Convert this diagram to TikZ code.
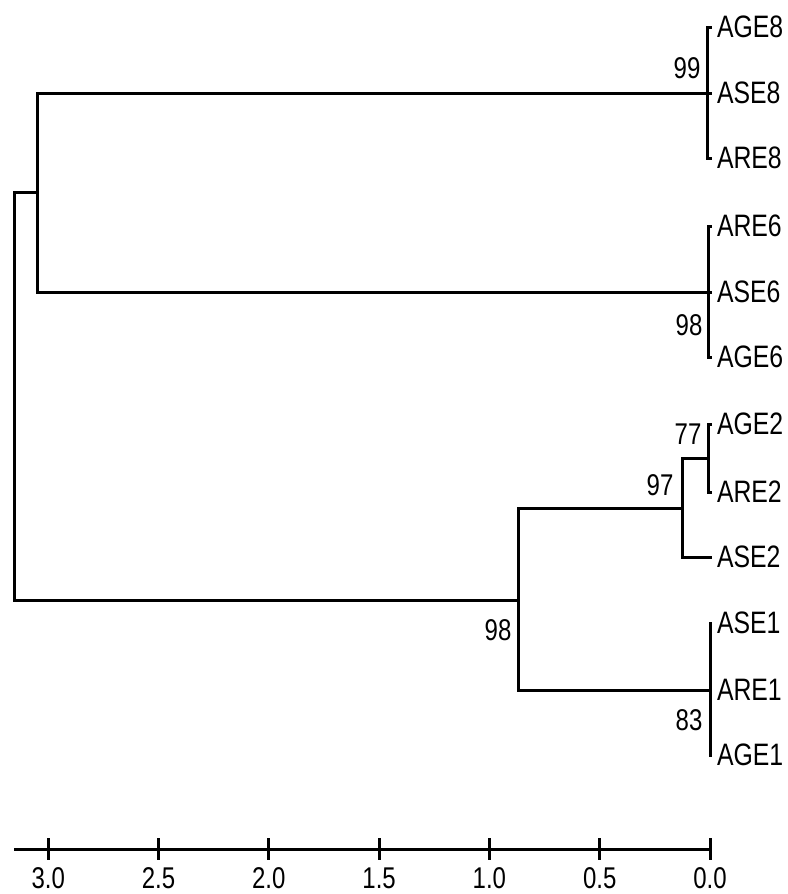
\documentclass[tikz,border=0pt]{standalone}
\usepackage{fontspec}
\newfontfamily\treefont[FakeStretch=0.8]{Liberation Sans}

\begin{document}
\begin{tikzpicture}[x=1pt,y=-1pt,
    branch/.style={line width=3pt},
    leaf/.style={anchor=west,inner xsep=5pt,inner ysep=0pt,outer sep=0pt,font=\treefont\fontsize{31}{33}\selectfont},
    boot/.style={inner sep=0pt,font=\treefont\fontsize{30}{32}\selectfont},
    scalelabel/.style={inner sep=0pt,font=\treefont\fontsize{30}{32}\selectfont}
  ]
  \useasboundingbox (0,0) rectangle (787,894);
  % leaves
  \node[leaf] (AGE8) at (712,27) {AGE8};
  \node[leaf] (ASE8) at (712,93) {ASE8};
  \node[leaf] (ARE8) at (712,158) {ARE8};
  \node[leaf] (ARE6) at (712,226) {ARE6};
  \node[leaf] (ASE6) at (712,292) {ASE6};
  \node[leaf] (AGE6) at (712,357) {AGE6};
  \node[leaf] (AGE2) at (712,424) {AGE2};
  \node[leaf] (ARE2) at (712,492) {ARE2};
  \node[leaf] (ASE2) at (712,557) {ASE2};
  \node[leaf] (ASE1) at (712,623) {ASE1};
  \node[leaf] (ARE1) at (712,690) {ARE1};
  \node[leaf] (AGE1) at (712,755) {AGE1};
  % internal nodes
  \coordinate (c8) at (707,93);
  \coordinate (c6) at (708,292);
  \coordinate (c86) at (37,192);
  \coordinate (c2a) at (708,458);
  \coordinate (c2) at (682,508);
  \coordinate (c1) at (710,690);
  \coordinate (c12) at (518,600);
  \coordinate (root) at (14,396);
  % branches
  \draw[branch] (c8) |- (AGE8);
  \draw[branch] (c8) |- (ASE8);
  \draw[branch] (c8) |- (ARE8);
  \draw[branch] (c6) |- (ARE6);
  \draw[branch] (c6) |- (ASE6);
  \draw[branch] (c6) |- (AGE6);
  \draw[branch] (c86) |- (c8);
  \draw[branch] (c86) |- (c6);
  \draw[branch] (c2a) |- (AGE2);
  \draw[branch] (c2a) |- (ARE2);
  \draw[branch] (c2) |- (c2a);
  \draw[branch] (c2) |- (ASE2);
  \draw[branch] (c1) |- (ASE1);
  \draw[branch] (c1) |- (ARE1);
  \draw[branch] (c1) |- (AGE1);
  \draw[branch] (c12) |- (c2);
  \draw[branch] (c12) |- (c1);
  \draw[branch] (root) |- (c86);
  \draw[branch] (root) |- (c12);
  % bootstrap values
  \node[boot] (b8) at (687,68) {99};
  \node[boot] (b6) at (689,325) {98};
  \node[boot] (b2a) at (688,434) {77};
  \node[boot] (b2) at (660,485) {97};
  \node[boot] (b12) at (498,630) {98};
  \node[boot] (b1) at (689,720) {83};
  % distance scale
  \draw[branch] (14,849) -- (710,849);
  \foreach \t [count=\i] in {0.0,0.5,1.0,1.5,2.0,2.5,3.0} {
    \draw[branch] ({710-110.3*(\i-1)},838) -- ({710-110.3*(\i-1)},860);
    \node[scalelabel] (tick\i) at ({710-110.3*(\i-1)},878) {\t};
  }
\end{tikzpicture}
\end{document}
